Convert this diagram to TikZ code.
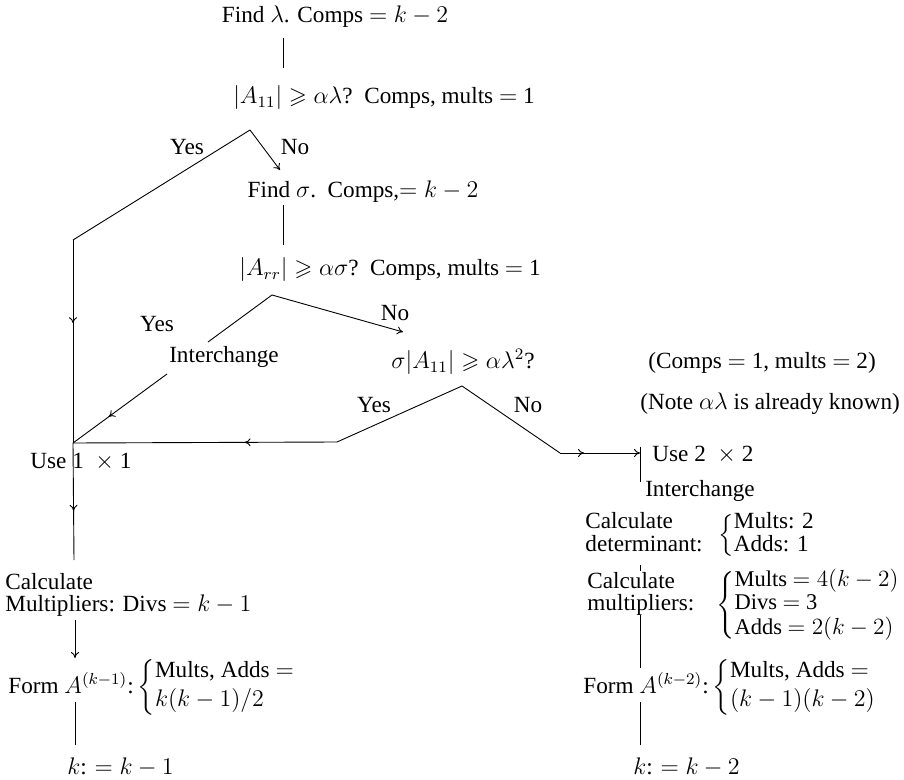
\documentclass[tikz,border=0pt]{standalone}
\usepackage{amsmath,amssymb}
\usepackage{fontspec}
\setmainfont{Liberation Serif}
\usetikzlibrary{arrows.meta,decorations.markings}
\tikzset{
  lbl/.style={inner sep=0pt, font=\fontsize{11.6}{10.5}\selectfont},
  two/.style={inner sep=0pt, font=\fontsize{11.6}{11.2}\selectfont, align=left, anchor=west},
  ln/.style={line width=0.45pt},
  arr/.style={ln,-{To[length=3pt,width=4pt]}},
  midarr/.style={ln, postaction={decorate}, decoration={markings, mark=at position #1 with {\arrow{To[length=3pt,width=4pt]}}}},
}
\begin{document}
\begin{tikzpicture}[x=0.5pt,y=-0.5pt]
\useasboundingbox (0,0) rectangle (904,780);

% ---- top chain
\node[lbl] (t1) at (335,17) {Find $\lambda$. Comps $=k-2$};
\node[lbl] (t2) at (384,98) {$|A_{11}|\geqslant\alpha\lambda$?\ \ Comps, mults $=$ 1};
\node[lbl] (t3) at (363,192) {Find $\sigma$.\ \ Comps,$=k-2$};
\node[lbl] (t4) at (390,270) {$|A_{rr}|\geqslant\alpha\sigma$?\ \ Comps, mults $=$ 1};
\node[lbl] (t5) at (463,362) {$\sigma|A_{11}|\geqslant\alpha\lambda^2$?};
\node[lbl,anchor=west] (n1) at (648,363) {(Comps $=$ 1, mults $=$ 2)};
\node[lbl,anchor=west] (n2) at (640,404) {(Note $\alpha\lambda$ is already known)};

\coordinate (c1a) at (283,38);
\coordinate (c1b) at (283,68);
\draw[ln] (c1a) -- (c1b);
\coordinate (c2a) at (283,205);
\coordinate (c2b) at (283,245);
\draw[ln] (c2a) -- (c2b);

% ---- first decision
\coordinate (a1) at (250,130);
\coordinate (b1) at (73,240);
\coordinate (j1) at (73,443);
\coordinate (e1) at (280,170);
\draw[ln] (a1) -- (b1);
\draw[midarr=0.41] (b1) -- (j1);
\draw[arr] (a1) -- (e1);
\node[lbl] (y1) at (187,147) {Yes};
\node[lbl] (no1) at (295,147) {No};

% ---- second decision
\coordinate (a2) at (272,295);
\coordinate (i1) at (208,342);
\coordinate (i2) at (167,374);
\coordinate (e2) at (403,332);
\node[lbl] (ic1) at (224,357) {Interchange};
\draw[ln] (a2) -- (i1);
\draw[midarr=0.62] (i2) -- (j1);
\draw[arr] (a2) -- (e2);
\node[lbl] (y2) at (157,324) {Yes};
\node[lbl] (no2) at (395,313) {No};

% ---- third decision
\coordinate (a3) at (462,386);
\coordinate (m3) at (337,442);
\coordinate (m4) at (560,453);
\coordinate (u2) at (640,453);
\draw[ln] (a3) -- (m3);
\draw[midarr=0.35] (m3) -- (j1);
\draw[ln] (a3) -- (m4);
\draw[arr,midarr=0.3] (m4) -- (u2);
\node[lbl] (y3) at (374,405) {Yes};
\node[lbl] (no3) at (528,405) {No};

% ---- left column
\node[lbl,anchor=west] (u1) at (30,462) {Use 1\ \ $\times$\ 1};
\coordinate (l1) at (74,560);
\draw[midarr=0.58] (j1) -- (l1);
\node[two] (cm) at (5,595) {Calculate\\Multipliers: Divs $=k-1$};
\coordinate (l2a) at (75,620);
\coordinate (l2b) at (75,658);
\draw[arr] (l2a) -- (l2b);
\node[lbl,anchor=west] (f1) at (8,687) {Form $A^{(k-1)}$:\,$\left\{\begin{tabular}{@{}l@{}}Mults, Adds $=$\\[2pt] $k(k-1)/2$\end{tabular}\right.$};
\coordinate (l3a) at (75,702);
\coordinate (l3b) at (75,745);
\draw[ln] (l3a) -- (l3b);
\node[lbl,anchor=west] (k1) at (67,767) {$k$: $=k-1$};

% ---- right column
\node[lbl,anchor=west] (u2t) at (652,455) {Use 2\ \ $\times$\ 2};
\coordinate (r1a) at (640,447);
\coordinate (r1b) at (640,482);
\draw[ln] (r1a) -- (r1b);
\node[lbl] (ic2) at (700,491) {Interchange};
\node[two] (cd) at (585,532) {Calculate\\determinant:};
\node[lbl,anchor=west] (cd3) at (718,535) {\delimiterfactor=850 $\left\{\begin{tabular}{@{}l@{}}Mults: 2\\ Adds: 1\end{tabular}\right.$};
\coordinate (r2a) at (640,565);
\coordinate (r2b) at (640,571);
\draw[ln] (r2a) -- (r2b);
\node[two] (cp) at (587,594) {Calculate\\multipliers:};
\node[lbl,anchor=west,scale=0.97] (cp3) at (716,605) {$\left\{\begin{tabular}{@{}l@{}}Mults $=4(k-2)$\\[1pt] Divs $=$ 3\\[1pt] Adds $=2(k-2)$\end{tabular}\right.$};
\coordinate (r3a) at (640,615);
\coordinate (r3b) at (640,668);
\draw[ln] (r3a) -- (r3b);
\node[lbl,anchor=west] (f2) at (583,687) {Form $A^{(k-2)}$:\,$\left\{\begin{tabular}{@{}l@{}}Mults, Adds $=$\\[2pt] $(k-1)(k-2)$\end{tabular}\right.$};
\coordinate (r4a) at (640,702);
\coordinate (r4b) at (640,745);
\draw[ln] (r4a) -- (r4b);
\node[lbl,anchor=west] (k2) at (633,767) {$k$: $=k-2$};
\end{tikzpicture}
\end{document}
